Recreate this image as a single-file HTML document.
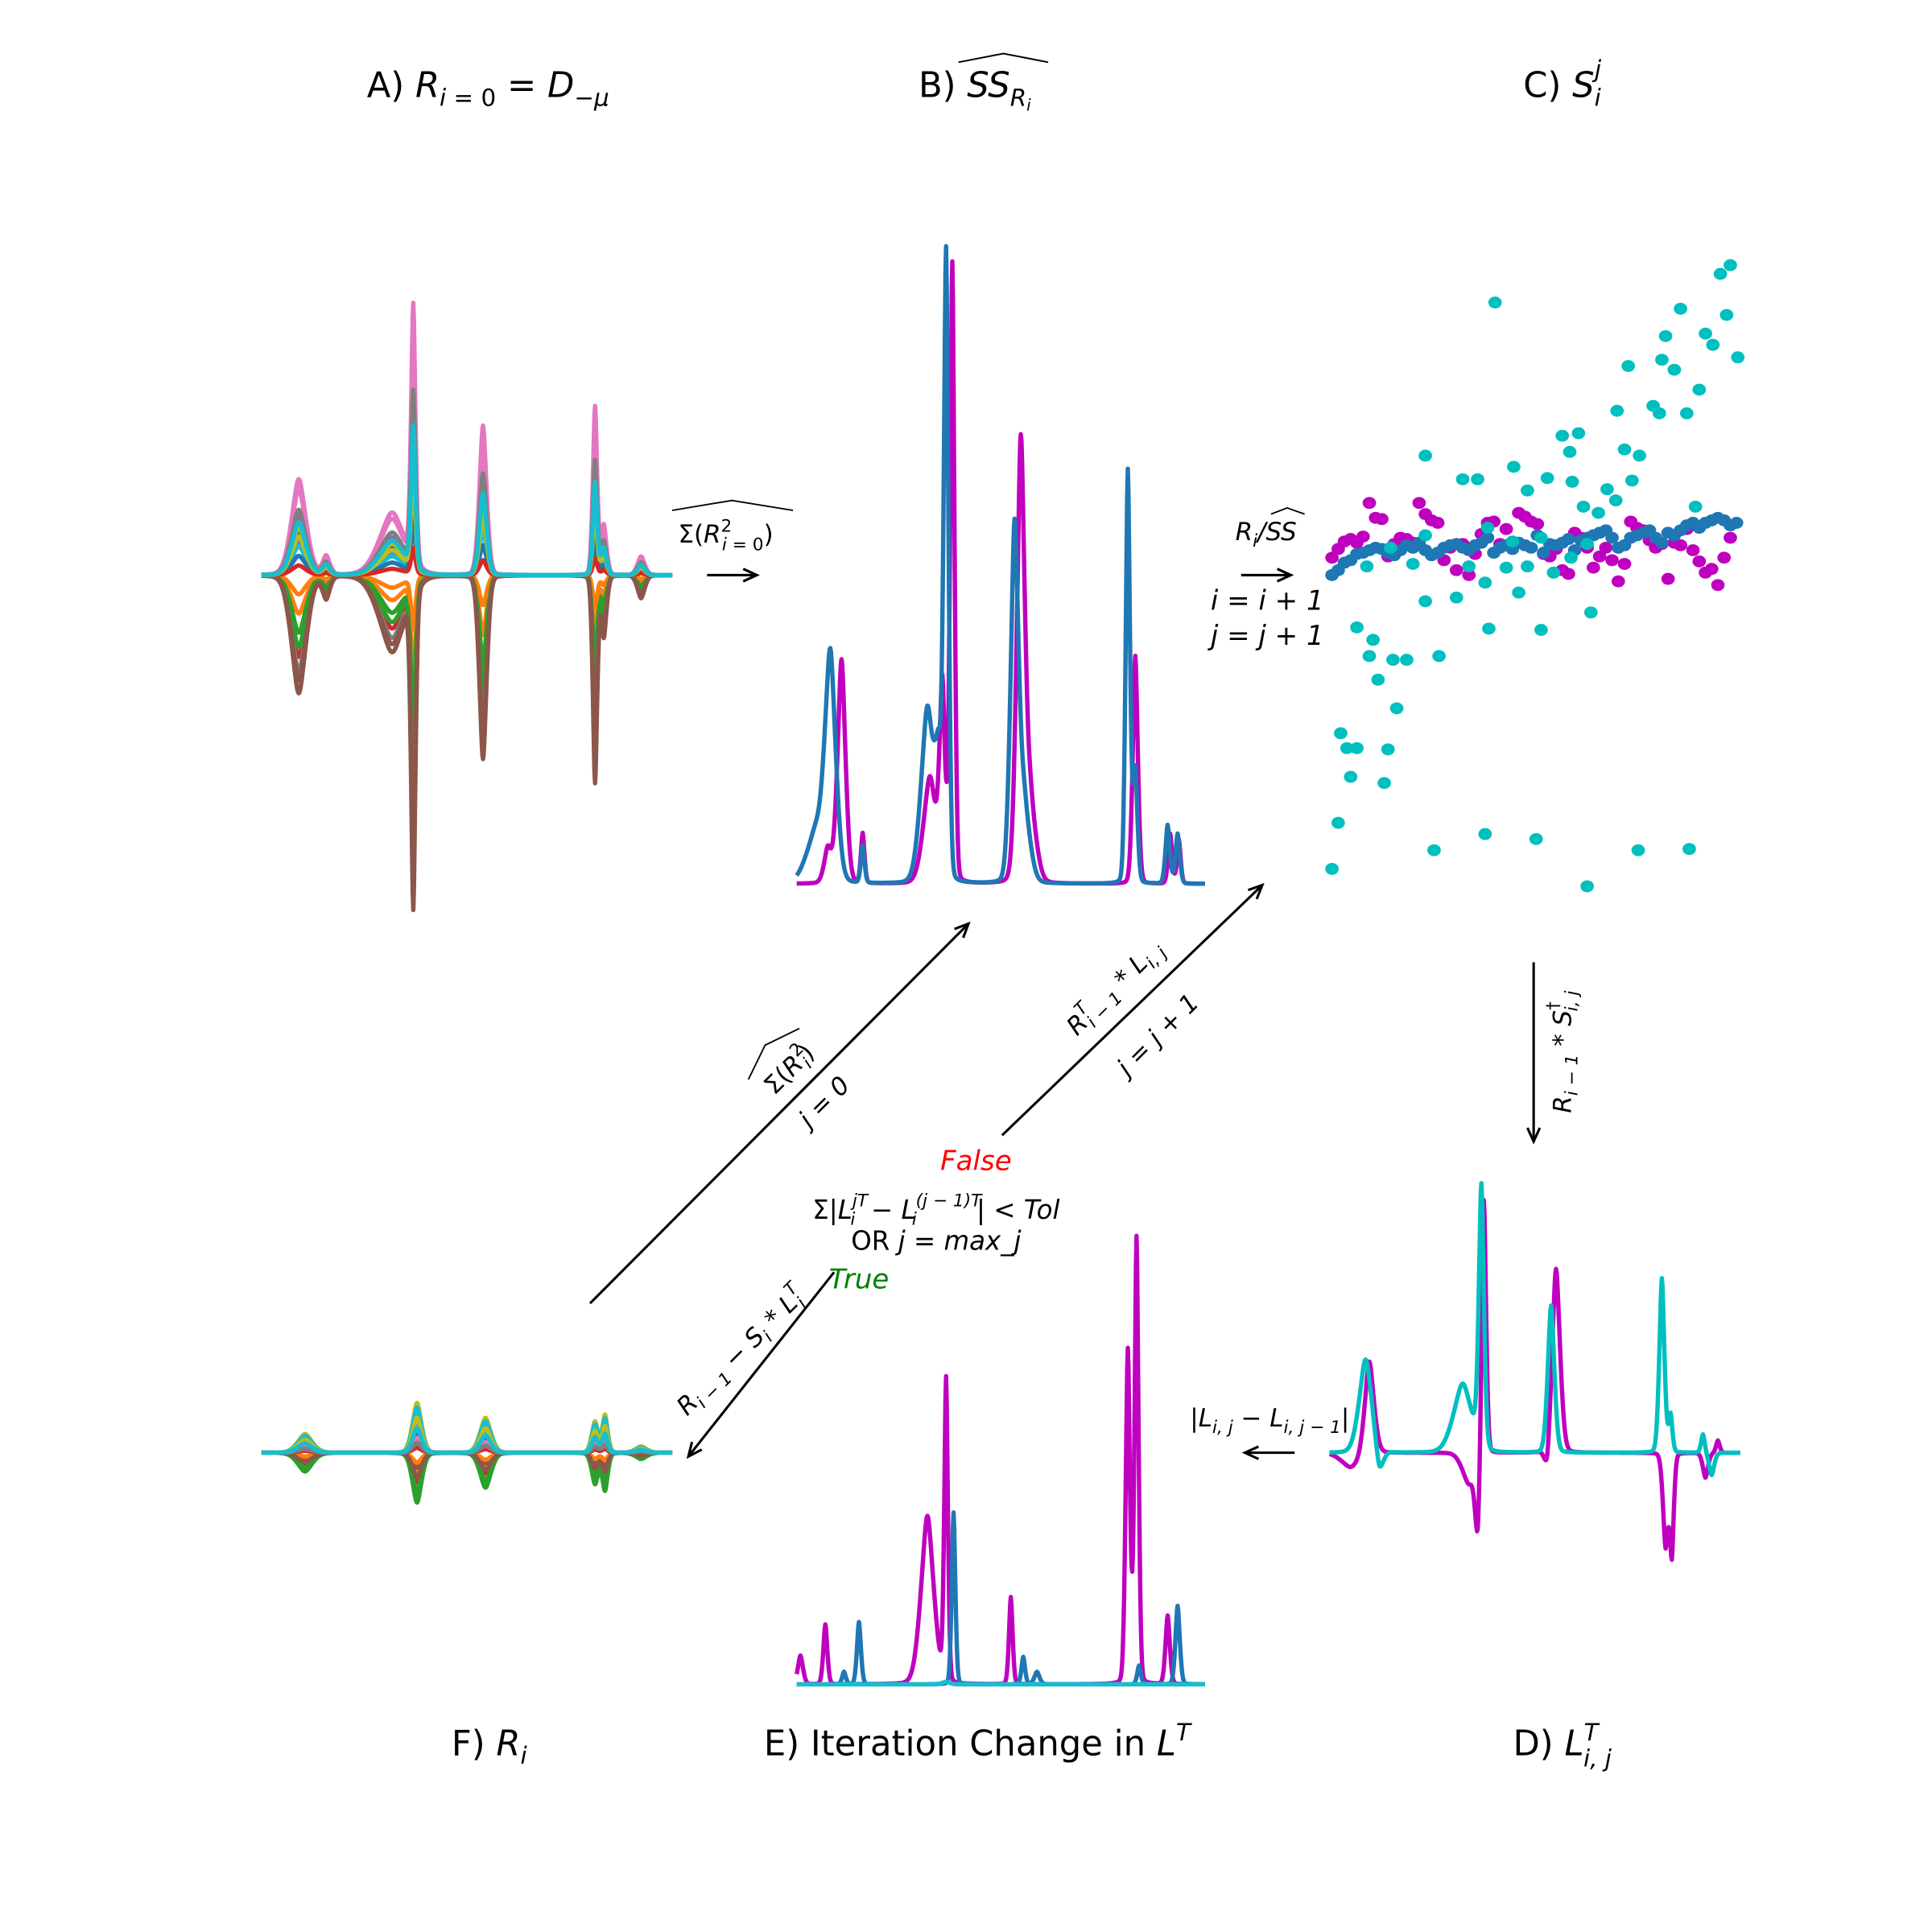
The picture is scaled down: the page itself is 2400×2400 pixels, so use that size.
<!DOCTYPE html>
<html><head><meta charset="utf-8"><title>MCR flow diagram</title>
<style>
html,body{margin:0;padding:0;background:#fff;}
svg{display:block;}
text{font-family:"DejaVu Sans","Liberation Sans",sans-serif;fill:#000;}
.it{font-style:italic;}
</style></head>
<body>
<svg id="fig" xmlns="http://www.w3.org/2000/svg" width="2400" height="2400" viewBox="0 0 1552 1552">
<defs>
<marker id="ah" markerUnits="userSpaceOnUse" markerWidth="30" markerHeight="30" refX="0" refY="0" viewBox="-15 -15 30 30" orient="auto">
<path d="M-11,-5 L0,0 L-11,5" fill="none" stroke="#000" stroke-width="2"/>
</marker>
</defs>
<rect width="1552" height="1552" fill="#fff"/>

<g id="panelA"></g>
<g id="panelB"></g>
<g id="panelC"></g>
<g id="panelD"></g>
<g id="panelE"></g>
<g id="panelF"></g>

<!-- Titles -->
<text x="392" y="78" font-size="28" text-anchor="middle">A) <tspan class="it">R</tspan><tspan font-size="19" dy="7" class="it">i</tspan><tspan font-size="19"> = 0</tspan><tspan dy="-7"> = </tspan><tspan class="it">D</tspan><tspan font-size="19" dy="7">−</tspan><tspan font-size="19" class="it">μ</tspan></text>
<text x="783" y="78" font-size="28" text-anchor="middle">B) <tspan class="it">SS</tspan><tspan font-size="19" dy="7" class="it">R</tspan><tspan font-size="13" dy="4" class="it">i</tspan></text>
<path d="M770,50 L806,43 L842,50" fill="none" stroke="#000" stroke-width="1.3"/>
<text x="1255" y="78" font-size="28" text-anchor="middle">C) <tspan class="it">S</tspan><tspan font-size="19" dy="7" class="it">i</tspan><tspan font-size="19" dy="-23" dx="-5" class="it">j</tspan></text>

<text x="393" y="1410" font-size="28" text-anchor="middle">F) <tspan class="it">R</tspan><tspan font-size="19" dy="7" class="it">i</tspan></text>
<text x="785" y="1410" font-size="28" text-anchor="middle">E) Iteration Change in <tspan class="it">L</tspan><tspan font-size="19" dy="-12" class="it">T</tspan></text>
<text x="1255" y="1410" font-size="28" text-anchor="middle">D) <tspan class="it">L</tspan><tspan font-size="19" dy="-12" class="it">T</tspan><tspan font-size="19" dy="21" dx="-12" class="it">i, j</tspan></text>

<!-- Arrows -->
<line x1="568" y1="462" x2="608" y2="462" stroke="#000" stroke-width="2" marker-end="url(#ah)"/>
<line x1="997" y1="462" x2="1037" y2="462" stroke="#000" stroke-width="2" marker-end="url(#ah)"/>
<line x1="1232" y1="773" x2="1232" y2="917" stroke="#000" stroke-width="2" marker-end="url(#ah)"/>
<line x1="1040" y1="1167" x2="1000" y2="1167" stroke="#000" stroke-width="2" marker-end="url(#ah)"/>
<line x1="474" y1="1047" x2="778" y2="742" stroke="#000" stroke-width="2" marker-end="url(#ah)"/>
<line x1="805" y1="912" x2="1014" y2="711" stroke="#000" stroke-width="2" marker-end="url(#ah)"/>
<line x1="670" y1="1022" x2="553" y2="1170" stroke="#000" stroke-width="2" marker-end="url(#ah)"/>

<!-- Arrow labels -->
<text x="583" y="436" font-size="20" text-anchor="middle">Σ(<tspan class="it">R</tspan><tspan font-size="14" dy="-9">2</tspan><tspan font-size="14" dy="15" dx="-8" class="it">i</tspan><tspan font-size="14"> = 0</tspan><tspan dy="-6">)</tspan></text>
<path d="M540,410 L588,402 L637,410" fill="none" stroke="#000" stroke-width="1.2"/>

<text x="1017" y="434" font-size="20" text-anchor="middle"><tspan class="it">R</tspan><tspan font-size="14" dy="5" class="it">i</tspan><tspan dy="-5" class="it">/SS</tspan></text>
<path d="M1021,413 L1034,408 L1048,413" fill="none" stroke="#000" stroke-width="1.2"/>
<text x="1018" y="490" font-size="22" text-anchor="middle" class="it">i = i + 1</text>
<text x="1018" y="518" font-size="22" text-anchor="middle" class="it">j = j + 1</text>

<text x="1262" y="845" font-size="20" text-anchor="middle" transform="rotate(-90 1262 845)"><tspan class="it">R</tspan><tspan font-size="14" dy="5" class="it">i − 1</tspan><tspan dy="-5"> * </tspan><tspan class="it">S</tspan><tspan font-size="14" dy="-10">†</tspan><tspan font-size="14" dy="15" dx="-8" class="it">i, j</tspan></text>

<text x="1020" y="1146" font-size="20" text-anchor="middle">|<tspan class="it">L</tspan><tspan font-size="14" dy="5" class="it">i, j</tspan><tspan dy="-5"> − </tspan><tspan class="it">L</tspan><tspan font-size="14" dy="5" class="it">i, j − 1</tspan><tspan dy="-5">|</tspan></text>

<g transform="rotate(-45 633 858)">
<text x="633" y="866" font-size="20" text-anchor="middle">Σ(<tspan class="it">R</tspan><tspan font-size="14" dy="-9">2</tspan><tspan font-size="14" dy="14" dx="-8" class="it">i</tspan><tspan dy="-5">)</tspan></text>
<path d="M604,842 L633,832 L662,842" fill="none" stroke="#000" stroke-width="1.2"/>
</g>
<text x="662" y="892" font-size="20" text-anchor="middle" class="it" transform="rotate(-45 662 885)">j = 0</text>

<text x="895" y="800" font-size="20" text-anchor="middle" transform="rotate(-45 895 793)"><tspan class="it">R</tspan><tspan font-size="14" dy="-9" class="it">T</tspan><tspan font-size="14" dy="14" dx="-8" class="it">i − 1</tspan><tspan dy="-5"> * </tspan><tspan class="it">L</tspan><tspan font-size="14" dy="5" class="it">i, j</tspan></text>
<text x="930" y="838" font-size="20" text-anchor="middle" class="it" transform="rotate(-45 930 831)">j = j + 1</text>

<text x="595" y="1092" font-size="20" text-anchor="middle" transform="rotate(-45 595 1085)"><tspan class="it">R</tspan><tspan font-size="14" dy="5" class="it">i − 1</tspan><tspan dy="-5"> − </tspan><tspan class="it">S</tspan><tspan font-size="14" dy="5" class="it">i</tspan><tspan dy="-5"> * </tspan><tspan class="it">L</tspan><tspan font-size="14" dy="-9" class="it">T</tspan><tspan font-size="14" dy="14" dx="-8" class="it">i</tspan></text>

<text x="784" y="940" font-size="22" text-anchor="middle" class="it" style="fill:#ff0000">False</text>
<text x="752" y="979" font-size="21" text-anchor="middle">Σ|<tspan class="it">L</tspan><tspan font-size="14" dy="-10" class="it">jT</tspan><tspan font-size="14" dy="15" dx="-14" class="it">i</tspan><tspan dy="-5" dx="6"> − </tspan><tspan class="it">L</tspan><tspan font-size="14" dy="-10" class="it">(j − 1)T</tspan><tspan font-size="14" dy="15" dx="-56" class="it">i</tspan><tspan dy="-5" dx="48">| &lt; </tspan><tspan class="it">Tol</tspan></text>
<text x="752" y="1004" font-size="21" text-anchor="middle">OR <tspan class="it">j = max_j</tspan></text>
<text x="690" y="1035" font-size="22" text-anchor="middle" class="it" style="fill:#008000">True</text>
</svg>

<script>
// ---------- Panel A data (peak centres / heights / widths, px-units) ----------
const aCenters = [240, 262, 315, 332, 388, 478, 485, 515];
const aHeights = [77, 15, 50, 205, 120, 135, 40, 15];
const aWidths  = [4, 2, 7, 1.2, 2, 1.2, 1.5, 2];
const aAmps = [0.45, -0.4, -0.6, -0.85, 0.35, -1.23, 1.0, -1.0, 0.5, 0.3, 0.2, -0.2, -0.75, 0.1, 0.6, -1.1, 0.9, 0.68, 0.4, 0.55];

// ---------- Panel F data ----------
const fCenters = [245, 335, 390, 478, 486, 515];
const fHeights = [15, 40, 28, 25, 30, 5];
const fWidths  = [4, 2.5, 3, 1.8, 1.5, 3];
const fAmps = [0.5, -0.4, -1.0, -0.6, 0.3, -0.3, 0.8, 0.2, 1.0, 0.9, 0.4, -0.2, -0.8, 0.1, 0.6, -0.5, 0.3, 0.2, 0.7, 0.5];

// ---------- Panel B data ----------
const bBlueCenters = [655, 667, 693, 745, 754, 760, 815, 823, 906, 912, 938, 946];
const bBlueHeights = [40, 178, 30, 140, 80, 495, 280, 60, 332, 90, 47, 40];
const bBlueWidths  = [5, 3, 1, 3.5, 2, 1.3, 2.2, 3, 1.2, 1.2, 1.2, 1.2];
const bMagCenters = [665, 676, 693, 747, 757, 765, 820, 828, 912, 940, 947];
const bMagHeights = [28, 180, 40, 85, 150, 497, 348, 60, 183, 40, 35];
const bMagWidths  = [2, 2.2, 1, 3.5, 1.5, 1.2, 2.2, 3, 1.4, 1.1, 1];

// ---------- Panel C data ----------
const cCyanX = [1201,1382,1390,1387,1350,1338,1370,1376,1396,1308,1335,1345,1365,1299,1328,1333,1355,1255,1268,1261,1305,1317,1145,1216,1175,1187,1243,1263,1291,1227,1311,1298,1272,1284,1362,1145,1195,1215,1238,1262,1275,1098,1117,1135,1180,1210,1227,1248,1193,1220,1170,1145,1196,1238,1278,1090,1103,1100,1119,1130,1107,1156,1122,1077,1082,1090,1115,1085,1112,1075,1070,1152,1193,1234,1316,1357,1275];
const cCyanY = [243,220,213,253,248,270,268,277,287,294,289,297,313,330,326,332,332,350,348,363,361,366,366,375,385,385,384,387,393,394,386,402,407,412,407,430,424,435,432,448,437,455,440,453,455,456,455,460,468,476,480,483,505,506,492,504,514,527,530,530,546,527,569,589,601,601,602,624,629,661,698,683,670,674,683,682,712];
const cMagX = [1070,1075,1080,1085,1090,1095,1100,1105,1110,1115,1120,1125,1130,1135,1140,1145,1150,1155,1160,1165,1170,1175,1180,1185,1190,1195,1200,1205,1210,1215,1220,1225,1230,1235,1240,1245,1250,1255,1260,1265,1270,1275,1280,1285,1290,1295,1300,1305,1310,1315,1320,1325,1330,1335,1340,1345,1350,1355,1360,1365,1370,1375,1380,1385,1390];
const cMagY = [448,441,435,433,436,431,404,416,417,447,437,432,433,436,404,413,418,420,450,440,458,437,462,445,429,420,419,437,425,436,412,415,419,421,445,447,441,458,461,428,432,440,456,447,440,450,467,453,419,424,426,434,440,437,465,436,438,425,442,451,460,457,470,448,432];
const cBlueX = [1070,1075,1080,1085,1090,1095,1100,1105,1110,1115,1120,1125,1130,1135,1140,1145,1150,1155,1160,1165,1170,1175,1180,1185,1190,1195,1200,1205,1210,1215,1220,1225,1230,1235,1240,1245,1250,1255,1260,1265,1270,1275,1280,1285,1290,1295,1300,1305,1310,1315,1320,1325,1330,1335,1340,1345,1350,1355,1360,1365,1370,1375,1380,1385,1390,1395];
const cBlueY = [462,458,452,450,445,444,442,440,441,444,446,442,438,440,436,442,446,444,440,438,437,440,442,438,436,432,444,440,438,441,436,438,440,430,444,437,438,436,433,442,434,432,430,428,426,432,440,438,432,430,428,426,432,436,428,430,426,422,420,424,420,418,416,418,422,420];

// ---------- Panel D data ----------
const dMagCenters = [1085, 1100, 1180, 1187, 1192, 1243, 1250, 1338, 1343, 1370, 1380];
const dMagHeights = [-12, 75, -25, -60, 210, -20, 148, -75, -80, -20, 10];
const dMagWidths  = [5, 2.5, 3.5, 1.4, 1.2, 1.4, 2.2, 1.4, 1.1, 1.4, 1];
const dCyanCenters = [1097, 1108, 1175, 1190, 1246, 1335, 1342, 1368, 1375];
const dCyanHeights = [75, -20, 55, 208, 118, 140, 30, 15, -18];
const dCyanWidths  = [3.5, 2, 5, 1.4, 1.8, 1.4, 1, 1, 1.4];

// ---------- Panel E data ----------
const eMagCenters = [643, 663, 745, 760, 812, 906, 913, 938];
const eMagHeights = [23, 48, 135, 243, 70, 268, 358, 55];
const eMagWidths  = [1.4, 1.1, 3.5, 1, 1, 1.2, 1.1, 1.2];
const eBlueCenters = [678, 690, 766, 822, 833, 915, 946];
const eBlueHeights = [10, 50, 138, 22, 10, 15, 63];
const eBlueWidths  = [1, 1.1, 1, 1, 1.4, 1, 1.2];
const eCyanCenters = [760];
const eCyanHeights = [2];
const eCyanWidths  = [2];

const tab10 = ['#1f77b4','#ff7f0e','#2ca02c','#d62728','#9467bd','#8c564b','#e377c2','#7f7f7f','#bcbd22','#17becf'];
const NS = 'http://www.w3.org/2000/svg';

function valueAt(x, cs, hs, ws, amp) {
  let v = 0;
  for (let k = 0; k < cs.length; k++) {
    const d = (x - cs[k]) / ws[k];
    const g = (x - cs[k]) / (ws[k] * 1.6);
    v += hs[k] * (0.75 * Math.exp(-0.5 * g * g) + 0.25 / (1 + d * d));
  }
  return v * amp;
}
function curvePath(cs, hs, ws, amp, x0, x1, base) {
  let d = '';
  for (let x = x0; x <= x1 + 0.001; x += 0.5) {
    const y = base - valueAt(x, cs, hs, ws, amp);
    d += (d ? 'L' : 'M') + x.toFixed(1) + ',' + y.toFixed(2);
  }
  return d;
}
function addLine(g, d, color, w, name) {
  const p = document.createElementNS(NS, 'path');
  p.setAttribute('d', d);
  p.setAttribute('fill', 'none');
  p.setAttribute('stroke', color);
  p.setAttribute('stroke-width', w);
  p.setAttribute('stroke-linejoin', 'round');
  
  
  g.appendChild(p);
}
function addDots(g, xs, ys, color, name) {
  for (let i = 0; i < xs.length; i++) {
    const c = document.createElementNS(NS, 'ellipse');
    c.setAttribute('cx', xs[i]);
    c.setAttribute('cy', ys[i]);
    c.setAttribute('rx', 5.4);
    c.setAttribute('ry', 4.8);
    c.setAttribute('fill', color);
    
    
    g.appendChild(c);
  }
}

// Panel A
const gA = document.getElementById('panelA');
aAmps.forEach((a, i) => addLine(gA, curvePath(aCenters, aHeights, aWidths, a, 210, 540, 462), tab10[i % 10], 3.5, 'spectrum-a-' + i));
// Panel F
const gF = document.getElementById('panelF');
fAmps.forEach((a, i) => addLine(gF, curvePath(fCenters, fHeights, fWidths, a, 210, 540, 1167), tab10[i % 10], 3.5, 'spectrum-f-' + i));
// Panel B
const gB = document.getElementById('panelB');
addLine(gB, curvePath(bMagCenters, bMagHeights, bMagWidths, 1, 640, 968, 710), '#bf00bf', 3.5, 'ss-line-magenta');
addLine(gB, curvePath(bBlueCenters, bBlueHeights, bBlueWidths, 1, 640, 968, 710), '#1f77b4', 3.5, 'ss-line-blue');
// Panel C
const gC = document.getElementById('panelC');
addDots(gC, cMagX, cMagY, '#bf00bf', 'score-magenta');
addDots(gC, cBlueX, cBlueY, '#1f77b4', 'score-blue');
addDots(gC, cCyanX, cCyanY, '#00bfbf', 'score-cyan');
// Panel D
const gD = document.getElementById('panelD');
addLine(gD, curvePath(dMagCenters, dMagHeights, dMagWidths, 1, 1068, 1398, 1167), '#bf00bf', 3.5, 'loading-magenta');
addLine(gD, curvePath(dCyanCenters, dCyanHeights, dCyanWidths, 1, 1068, 1398, 1167), '#00bfbf', 3.5, 'loading-cyan');
// Panel E
const gE = document.getElementById('panelE');
addLine(gE, curvePath(eMagCenters, eMagHeights, eMagWidths, 1, 640, 968, 1353), '#bf00bf', 3.5, 'change-magenta');
addLine(gE, curvePath(eBlueCenters, eBlueHeights, eBlueWidths, 1, 640, 968, 1353), '#1f77b4', 3.5, 'change-blue');
addLine(gE, curvePath(eCyanCenters, eCyanHeights, eCyanWidths, 1, 640, 968, 1353), '#17becf', 3.5, 'change-cyan');
</script>
</body></html>
